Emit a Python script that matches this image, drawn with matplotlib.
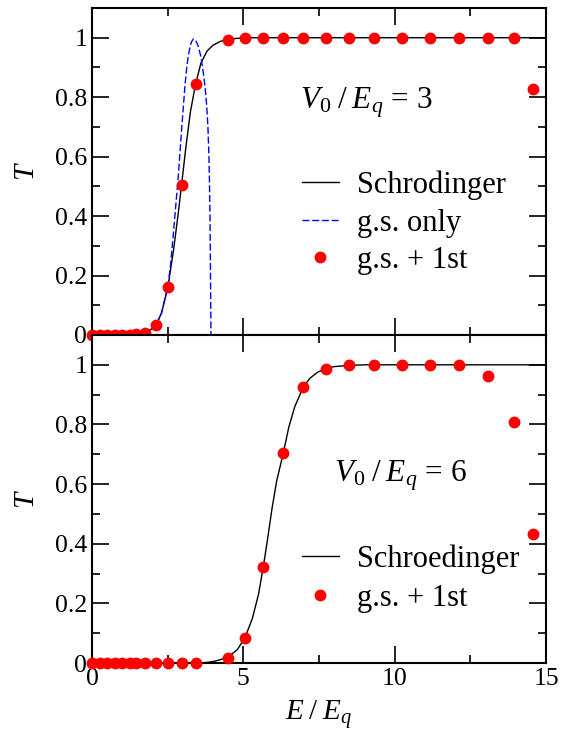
"""Transmission T vs E/E_q for V0/E_q = 3 and 6 (two stacked panels)."""
import numpy as np
import matplotlib; matplotlib.use("Agg")
import matplotlib.pyplot as plt
from matplotlib.ticker import MultipleLocator, FuncFormatter

plt.rcParams["font.family"] = ["Liberation Serif", "DejaVu Serif"]
plt.rcParams["mathtext.fontset"] = "custom"
plt.rcParams["mathtext.rm"] = "Liberation Serif"
plt.rcParams["mathtext.it"] = "Liberation Serif:italic"

# energies of the two-state calculation (same grid both panels)
E_pts = [0, 0.25, 0.5, 0.75, 1.0, 1.25, 1.45, 1.76, 2.12, 2.51, 2.96, 3.42, 4.48,
         5.05, 5.66, 6.32, 6.98, 7.72, 8.50, 9.33, 10.23, 11.17, 12.13, 13.09, 13.94, 14.58]

# V0/Eq = 3
T3_pts = [0, 0, 0, 0, 0, 0, 0.002, 0.006, 0.034, 0.163, 0.506, 0.843, 0.993,
          1.0, 1.0, 1.0, 1.0, 1.0, 1.0, 1.0, 1.0, 1.0, 0.998, 0.998, 1.0, 0.826]
E3_sch = [0, 1.0, 1.5, 1.8, 2.0, 2.12, 2.3, 2.51, 2.7, 2.85, 2.96, 3.1, 3.25, 3.42, 3.6, 3.8,
          4.0, 4.25, 4.48, 4.8, 5.2, 15.0]
T3_sch = [0, 0, 0.002, 0.01, 0.022, 0.034, 0.075, 0.163, 0.29, 0.41, 0.506, 0.63, 0.75, 0.843,
          0.915, 0.955, 0.975, 0.988, 0.994, 0.998, 1.0, 1.0]
E3_gs = [0, 1.0, 1.5, 1.8, 2.0, 2.12, 2.3, 2.51, 2.6, 2.69, 2.78, 2.85, 2.96, 3.07, 3.14, 3.21,
         3.28, 3.35, 3.43, 3.51, 3.6, 3.68, 3.74, 3.79, 3.83, 3.86, 3.88, 3.90, 3.915, 3.93]
T3_gs = [0, 0, 0.002, 0.01, 0.022, 0.034, 0.075, 0.165, 0.24, 0.343, 0.45, 0.533, 0.69, 0.837,
         0.91, 0.955, 0.985, 0.996, 0.99, 0.972, 0.935, 0.88, 0.83, 0.77, 0.70, 0.612, 0.52,
         0.388, 0.2, 0.0]

# V0/Eq = 6
T6_pts = [0, 0, 0, 0, 0, 0, 0, 0, 0, 0, 0, 0, 0.017,
          0.084, 0.323, 0.704, 0.925, 0.987, 1.0, 1.0, 1.0, 1.0, 1.0, 0.964, 0.807, 0.432]
E6_sch = [0, 3.5, 3.8, 4.0, 4.2, 4.5, 4.8, 5.05, 5.3, 5.5, 5.66, 5.8, 5.95, 6.1, 6.32, 6.5,
          6.7, 6.98, 7.2, 7.45, 7.72, 8.0, 8.5, 9.0, 15.0]
T6_sch = [0, 0, 0.002, 0.005, 0.01, 0.02, 0.045, 0.084, 0.15, 0.23, 0.323, 0.415, 0.52, 0.61,
          0.704, 0.79, 0.86, 0.925, 0.955, 0.975, 0.987, 0.994, 0.998, 1.0, 1.0]

RED = "#ff0000"
BLUE = "#0000ff"

fig = plt.figure(figsize=(5.69, 7.39), dpi=100)
ax1 = fig.add_axes([0.1617, 0.5467, 0.7979, 0.4425])
ax2 = fig.add_axes([0.1617, 0.1028, 0.7979, 0.4439], sharex=ax1)

ax1.plot(E3_sch, T3_sch, color="black", lw=1.0, label="Schrodinger")
ax1.plot(E3_gs, T3_gs, color=BLUE, lw=1.0, ls=(0, (5, 2)), label="g.s. only")
ax1.plot(E_pts, T3_pts, "o", color=RED, ms=7.5, ls="none", clip_on=False, zorder=5,
         label="g.s. + 1st")

ax2.plot(E6_sch, T6_sch, color="black", lw=1.0, label="Schroedinger")
ax2.plot(E_pts, T6_pts, "o", color=RED, ms=7.5, ls="none", clip_on=False, zorder=5,
         label="g.s. + 1st")

fmt = FuncFormatter(lambda v, p: f"{v:g}")
for ax in (ax1, ax2):
    ax.set_xlim(0, 15)
    ax.set_ylim(0, 1.1)
    ax.xaxis.set_major_locator(MultipleLocator(5))
    ax.xaxis.set_minor_locator(MultipleLocator(2.5))
    ax.yaxis.set_major_locator(MultipleLocator(0.2))
    ax.yaxis.set_minor_locator(MultipleLocator(0.1))
    ax.yaxis.set_major_formatter(fmt)
    ax.tick_params(which="both", direction="in", top=True, right=True, width=1.2, labelsize=18.5)
    ax.tick_params(which="major", length=12)
    ax.tick_params(which="minor", length=6)
    for s in ax.spines.values():
        s.set_linewidth(1.5)
    ax.set_ylabel(r"$T$", fontsize=21, labelpad=11)

ax1.tick_params(labelbottom=False)
ax2.xaxis.set_major_formatter(fmt)
ax2.set_xlabel(r"$E\;\mathit{/}\;E_q$", fontsize=21, labelpad=6)

ax1.text(6.87, 0.78, r"$V_0\;\mathit{/}\;E_q$ = 3", fontsize=22.5, va="center", ha="left")
ax2.text(8.0, 0.627, r"$V_0\;\mathit{/}\;E_q$ = 6", fontsize=22.5, va="center", ha="left")

ax1.legend(loc="upper left", bbox_to_anchor=(0.4616, 0.503), frameon=False, fontsize=22,
           handlelength=1.21, handletextpad=0.62, labelspacing=0.28, borderpad=0,
           borderaxespad=0, numpoints=1)
ax2.legend(loc="upper left", bbox_to_anchor=(0.4616, 0.362), frameon=False, fontsize=22,
           handlelength=1.21, handletextpad=0.62, labelspacing=0.33, borderpad=0,
           borderaxespad=0, numpoints=1)

fig.savefig("out.png", dpi=100)
